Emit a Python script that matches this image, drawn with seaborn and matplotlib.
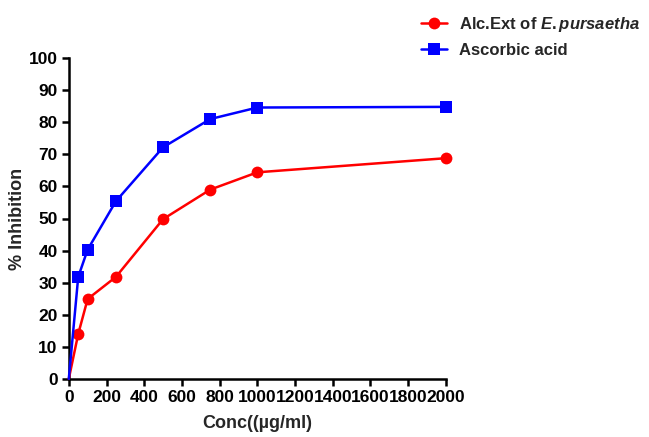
import matplotlib
matplotlib.use("Agg")
import matplotlib.pyplot as plt
import seaborn as sns
import pandas as pd
from matplotlib.lines import Line2D

conc = [0, 50, 100, 250, 500, 750, 1000, 2000]
extract = [0, 14.0, 24.9, 31.8, 49.8, 59.0, 64.4, 68.8]
ascorbic = [0, 31.8, 40.3, 55.4, 72.2, 81.0, 84.6, 84.8]
label_ext = r"Alc.Ext of $\mathit{E.pursaetha}$"
label_asc = "Ascorbic acid"

sns.set_style("ticks")
plt.rcParams['font.family'] = ['Liberation Sans', 'DejaVu Sans']
plt.rcParams['font.weight'] = 'bold'
plt.rcParams['mathtext.fontset'] = 'custom'
plt.rcParams['mathtext.it'] = 'Liberation Sans:italic:bold'
plt.rcParams['mathtext.rm'] = 'Liberation Sans:bold'

df = pd.DataFrame({
    "Conc": conc * 2,
    "Inh": extract + ascorbic,
    "Series": [label_ext] * len(conc) + [label_asc] * len(conc),
})

fig = plt.figure(figsize=(6.49, 4.37), dpi=100)
ax = fig.add_axes([0.106, 0.133, 0.581, 0.734])
sns.lineplot(data=df, x="Conc", y="Inh", hue="Series", style="Series",
             palette={label_ext: "#ff0000", label_asc: "#0000ff"},
             markers={label_ext: "o", label_asc: "s"}, dashes=False,
             markersize=8.5, linewidth=1.8, markeredgewidth=0, ax=ax, legend=False,
             markevery=list(range(1, len(conc))), clip_on=False, zorder=3)

ax.set_xlim(0, 2000)
ax.set_ylim(0, 100)
ax.set_xticks(range(0, 2001, 200))
ax.set_yticks(range(0, 101, 10))
for s in ["top", "right"]:
    ax.spines[s].set_visible(False)
for s in ["left", "bottom"]:
    ax.spines[s].set_linewidth(1.8)
    ax.spines[s].set_color("black")
ax.tick_params(width=1.8, length=5, labelsize=12.5, colors="black", pad=3)
for lab in ax.get_xticklabels() + ax.get_yticklabels():
    lab.set_fontweight("bold")
ax.set_xlabel("Conc((µg/ml)", fontsize=13, fontweight="bold", labelpad=7)
ax.set_ylabel("% Inhibition", fontsize=13, fontweight="bold", labelpad=2)

handles = [Line2D([], [], color="#ff0000", marker="o", markersize=8.5, lw=1.8, markeredgewidth=0),
           Line2D([], [], color="#0000ff", marker="s", markersize=8.5, lw=1.8, markeredgewidth=0)]
fig.legend(handles, [label_ext, label_asc], loc="upper left", bbox_to_anchor=(0.625, 1.0),
           frameon=False, prop={"size": 12, "weight": "bold"}, handlelength=1.6,
           handletextpad=0.7, labelspacing=0.55)

fig.savefig("out.png", dpi=100)
